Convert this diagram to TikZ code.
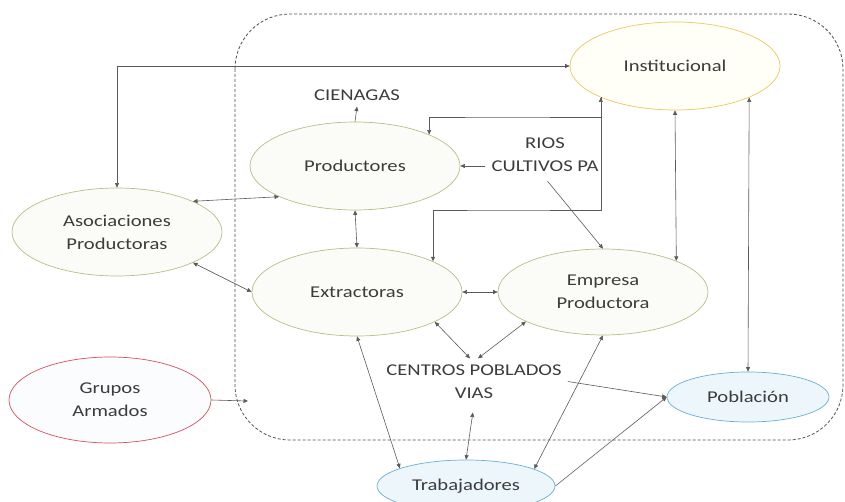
\documentclass[tikz,border=0pt]{standalone}
\usepackage{fontspec}
\setmainfont{Carlito}[FakeStretch=1.25]
\usetikzlibrary{shapes.geometric,arrows.meta,calc}
\definecolor{txt}{HTML}{3C3C3C}
\definecolor{lin}{HTML}{5A5A5A}
\definecolor{grn}{HTML}{AFC386}
\definecolor{grnfill}{HTML}{FBFCF7}
\definecolor{ylw}{HTML}{EDC85A}
\definecolor{ylwfill}{HTML}{FFFEF7}
\definecolor{rd}{HTML}{D9505F}
\definecolor{rdfill}{HTML}{FAFCFD}
\definecolor{blu}{HTML}{6AAFD6}
\definecolor{blufill}{HTML}{ECF6FB}
\definecolor{dsh}{HTML}{505050}
\begin{document}
\begin{tikzpicture}[x=1pt,y=-1pt,
  every node/.style={font=\fontsize{16.5}{23}\selectfont, text=txt},
  ell/.style={ellipse, draw, line width=0.7pt, align=center, inner sep=0pt},
  big/.style={minimum width=210pt, minimum height=88pt},
  gnode/.style={ell, big, draw=grn, fill=grnfill},
  ynode/.style={ell, big, draw=ylw, fill=ylwfill},
  rnode/.style={ell, draw=rd, fill=rdfill},
  bnode/.style={ell, draw=blu, fill=blufill},
  lbl/.style={align=center, inner sep=6pt},
  conn/.style={draw=lin, line width=0.6pt},
  bi/.style={conn, {Triangle[length=4.5pt,width=4pt]}-{Triangle[length=4.5pt,width=4pt]}},
  uni/.style={conn, -{Triangle[length=4.5pt,width=4pt]}}
]
\useasboundingbox (0,0) rectangle (845,502);

% dashed boundary
\draw[dsh, line width=0.8pt, dash pattern=on 3pt off 2pt, rounded corners=55pt]
  (235,14) rectangle (843,440);

% nodes
\node[ynode] (inst) at (675,66) {Institucional};
\node[gnode] (prod) at (355,166) {Productores};
\node[gnode] (asoc) at (117,232) {Asociaciones\\Productoras};
\node[gnode] (extr) at (357,292) {Extractoras};
\node[gnode, minimum height=86pt] (emp) at (603,292) {Empresa\\Productora};
\node[rnode, minimum width=202pt, minimum height=86pt] (grup) at (110,400) {Grupos\\Armados};
\node[bnode, minimum width=162pt, minimum height=50pt] (pobl) at (748,397) {Población};
\node[bnode, minimum width=178pt, minimum height=52pt] (trab) at (466,486) {Trabajadores};

\node[lbl] (cien) at (357,95) {CIENAGAS};
\node[lbl] (rios) at (545,155) {RIOS\\CULTIVOS PA};
\node[lbl] (cent) at (474,381.5) {CENTROS POBLADOS\\VIAS};

\coordinate (k1) at (500,117);
\coordinate (k2) at (500,210);
\coordinate (gtip) at (248,401);

% connectors
\draw[bi] (asoc.north) |- (inst.west);
\draw[bi] (inst.203) |- (k1) -| (prod.23);
\draw[uni] (inst.203) |- (k2) -| (extr.22);
\draw[bi] (inst.south) -- (emp.23);
\draw[bi] (inst.337) -- (pobl.north);
\draw[bi] (asoc.22) -- (prod.202);
\draw[bi] (asoc.338) -- (extr.west);
\draw[bi] (prod.south) -- (extr.north);
\draw[uni] (prod.north) -- (cien.south);
\draw[uni] (rios.west |- prod.east) -- (prod.east);
\draw[uni, shorten <=4pt] (rios.south) -- (emp.north);
\draw[bi] (extr.east) -- (emp.west);
\draw[bi] ([xshift=-4pt]cent.north) -- (extr.339);
\draw[bi] ([xshift=4pt]cent.north) -- (emp.201);
\draw[bi, shorten <=8pt] (cent.south) -- (trab.north);
\draw[bi] (extr.south) -- (trab.165);
\draw[bi] (emp.south) -- (trab.14);
\draw[uni] (cent.east) -- (pobl.west);
\draw[uni] (trab.east) -- (pobl.west);
\draw[uni] (grup.east) -- (gtip);
\end{tikzpicture}
\end{document}
